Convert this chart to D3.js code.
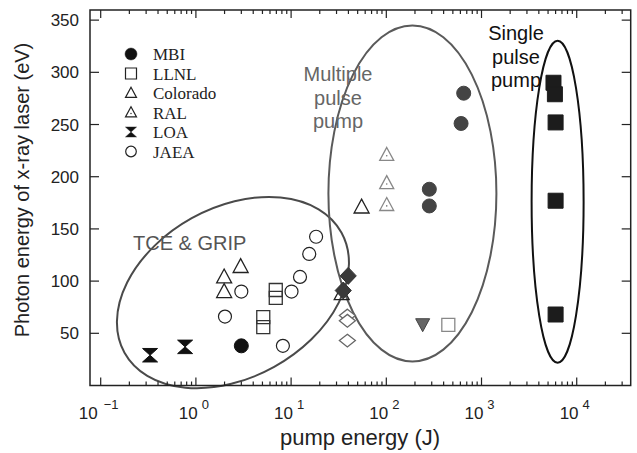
<!DOCTYPE html>
<html>
<head>
<meta charset="utf-8">
<script src="https://cdn.jsdelivr.net/npm/d3@7"></script>
<style>
  body { margin: 0; background: #fff; }
  svg text { font-family: "Liberation Sans", Arial, sans-serif; }
</style>
</head>
<body>
<div id="chart"></div>
<script>
// Data: [pump energy (J), photon energy (eV)]
const mbi = [[3.0, 38]];
const mbiMulti = [[650, 280], [610, 251], [283, 188], [283, 172]];
const llnl = [[6.9, 91.5], [6.9, 84], [5.1, 65.5], [5.1, 56]];
const llnlMulti = [[448, 58]];
const colorado = [[1.98, 104], [2.95, 114], [1.98, 90], [55, 171], [34, 88]];
const ral = [[101, 221], [101, 194], [101, 173]];
const loa = [[0.33, 29], [0.77, 37]];
const jaea = [[3.0, 90], [2.02, 66], [8.2, 38], [10.1, 90], [12.4, 104], [15.5, 126], [18.3, 142.5]];
const diamondFilled = [[39.8, 105], [35.3, 91]];
const diamondOpen = [[39, 67], [39, 62], [39, 43]];
const triangleDown = [[241, 58.6]];
const singlePulse = [[5700, 290], [5900, 279], [6000, 252], [6000, 177], [6000, 68]];

const legendItems = ["MBI", "LLNL", "Colorado", "RAL", "LOA", "JAEA"];
const xTickExps = [-1, 0, 1, 2, 3, 4];
const yTicks = [50, 100, 150, 200, 250, 300, 350];

// Layout
const W = 637, H = 453;
const plot = { left: 90, right: 630.7, top: 10, bottom: 385.5 };

const svg = d3.select("#chart").append("svg")
  .attr("width", W).attr("height", H);

const x = d3.scaleLog().domain([0.0772, 36900]).range([plot.left, plot.right]);
const y = d3.scaleLinear().domain([0, 359.7]).range([plot.bottom, plot.top]);

// Ellipses (annotation regions)
const ellipses = svg.append("g").attr("fill", "none").attr("stroke-width", 2);
ellipses.append("ellipse")
  .attr("transform", `translate(${x(2.45)},${y(89)}) rotate(-29)`)
  .attr("rx", 124).attr("ry", 85).attr("stroke", "#4a4a4a");
ellipses.append("ellipse")
  .attr("cx", x(188)).attr("cy", y(184))
  .attr("rx", 84).attr("ry", 168).attr("stroke", "#5a5a5a");
ellipses.append("ellipse")
  .attr("cx", x(6300)).attr("cy", y(176))
  .attr("rx", 26).attr("ry", 161).attr("stroke", "#111");

// Frame
svg.append("rect")
  .attr("x", plot.left).attr("y", plot.top)
  .attr("width", plot.right - plot.left).attr("height", plot.bottom - plot.top)
  .attr("fill", "none").attr("stroke", "#222").attr("stroke-width", 1.5);

// X ticks (log, inward on bottom and top)
const minor = [];
for (let e = -1; e <= 4; e++) {
  for (let m = 1; m <= 9; m++) {
    const v = m * Math.pow(10, e);
    if (v >= x.domain()[0] && v <= x.domain()[1]) minor.push({ v, major: m === 1 });
  }
}
const ticks = svg.append("g").attr("stroke", "#222").attr("stroke-width", 1.2);
minor.forEach(t => {
  const len = t.major ? 8 : 4;
  ticks.append("line").attr("x1", x(t.v)).attr("x2", x(t.v))
    .attr("y1", plot.bottom).attr("y2", plot.bottom - len);
  ticks.append("line").attr("x1", x(t.v)).attr("x2", x(t.v))
    .attr("y1", plot.top).attr("y2", plot.top + len);
});
yTicks.forEach(v => {
  ticks.append("line").attr("x1", plot.left).attr("x2", plot.left + 9)
    .attr("y1", y(v)).attr("y2", y(v));
  ticks.append("line").attr("x1", plot.right).attr("x2", plot.right - 9)
    .attr("y1", y(v)).attr("y2", y(v));
});

// Tick labels
svg.append("g").selectAll("text").data(yTicks).join("text")
  .attr("x", 79).attr("y", d => y(d) + 6)
  .attr("text-anchor", "end").attr("font-size", 17).attr("fill", "#222")
  .text(d => d);

const xl = svg.append("g").selectAll("text").data(xTickExps).join("text")
  .attr("x", d => x(Math.pow(10, d)) - 2).attr("y", 419)
  .attr("text-anchor", "middle").attr("font-size", 17).attr("fill", "#222");
xl.append("tspan").text("10");
xl.append("tspan").attr("dx", d => d < 0 ? 6 : 4).attr("dy", -10).attr("font-size", 13)
  .text(d => d < 0 ? "\u2212" + Math.abs(d) : d);

// Axis titles
svg.append("text").attr("x", 360).attr("y", 445)
  .attr("text-anchor", "middle").attr("font-size", 22).attr("fill", "#222")
  .text("pump energy (J)");
svg.append("text")
  .attr("transform", `translate(29,190) rotate(-90)`)
  .attr("text-anchor", "middle").attr("font-size", 20).attr("fill", "#222")
  .text("Photon energy of x-ray laser (eV)");

// Marker shapes
function shape(type, s) {
  const h = s / 2;
  switch (type) {
    case "square": return `M${-h},${-h}H${h}V${h}H${-h}Z`;
    case "triangle": return `M0,${-h * 1.05}L${h},${h * 0.8}L${-h},${h * 0.8}Z`;
    case "triangleDown": return `M${-h},${-h * 0.8}L${h},${-h * 0.8}L0,${h * 1.05}Z`;
    case "hourglass": return `M${-h},${-h * 0.9}H${h}L0,0Z M${-h},${h * 0.9}H${h}L0,0Z`;
    case "diamond": return `M0,${-h}L${h * 0.95},0L0,${h}L${-h * 0.95},0Z`;
    case "diamondFlat": return `M0,${-h * 0.8}L${h},0L0,${h * 0.8}L${-h},0Z`;
  }
}

function drawSeries(data, type, size, fill, stroke, sw) {
  const g = svg.append("g");
  g.selectAll("path").data(data).join("path")
    .attr("transform", d => `translate(${x(d[0])},${y(d[1])})`)
    .attr("d", type === "circle" ? d3.arc()({ innerRadius: 0, outerRadius: size / 2, startAngle: 0, endAngle: 2 * Math.PI }) : shape(type, size))
    .attr("fill", fill).attr("stroke", stroke).attr("stroke-width", sw);
  return g;
}

drawSeries(loa, "hourglass", 15, "#111", "#111", 1);
drawSeries(jaea, "circle", 13, "#fff", "#222", 1.2);
drawSeries(llnl, "square", 13, "none", "#333", 1.3);
drawSeries(colorado, "triangle", 15, "none", "#222", 1.3);
drawSeries(diamondOpen, "diamondFlat", 16, "#fff", "#666", 1.3);
drawSeries(diamondFilled, "diamond", 17, "#3a3a3a", "#333", 1);
drawSeries(ral, "triangle", 14, "#fff", "#888", 1.3);
svg.append("g").selectAll("circle").data(ral).join("circle")
  .attr("cx", d => x(d[0])).attr("cy", d => y(d[1]) + 1).attr("r", 0.8).attr("fill", "#777");
drawSeries(mbi, "circle", 14, "#111", "#111", 1);
drawSeries(mbiMulti, "circle", 14, "#444", "#444", 1);
drawSeries(triangleDown, "triangleDown", 14, "#666", "#444", 1);
drawSeries(llnlMulti, "square", 13, "#fff", "#888", 1.3);
drawSeries(singlePulse, "square", 15, "#1c1c1c", "#1c1c1c", 1);

// Annotations
svg.append("text").attr("x", 133).attr("y", 250).attr("font-size", 20).attr("fill", "#555")
  .text("TCE & GRIP");
svg.append("g").selectAll("text").data(["Multiple", "pulse", "pump"]).join("text")
  .attr("x", 338).attr("y", (d, i) => 81 + i * 23.5)
  .attr("text-anchor", "middle").attr("font-size", 20).attr("fill", "#666")
  .text(d => d);
svg.append("g").selectAll("text").data(["Single", "pulse", "pump"]).join("text")
  .attr("x", 516).attr("y", (d, i) => 40 + i * 23.5)
  .attr("text-anchor", "middle").attr("font-size", 20).attr("fill", "#111")
  .text(d => d);

// Legend
const legendTypes = ["circle", "square", "triangle", "triangle", "hourglass", "circle"];
const legend = svg.append("g").attr("transform", "translate(131,54)");
legendItems.forEach((name, i) => {
  const row = legend.append("g").attr("transform", `translate(0,${i * 19.5})`);
  const t = legendTypes[i];
  const filled = name === "MBI" || name === "LOA";
  row.append("path")
    .attr("d", t === "circle" ? d3.arc()({ innerRadius: 0, outerRadius: filled ? 6 : 5.3, startAngle: 0, endAngle: 2 * Math.PI }) : shape(t, 11))
    .attr("fill", filled ? "#111" : "none")
    .attr("stroke", "#222").attr("stroke-width", filled ? 0.5 : 1.2);
  if (name === "RAL") row.append("circle").attr("cy", 1).attr("r", 0.8).attr("fill", "#444");
  row.append("text").attr("x", 22).attr("y", 6)
    .style("font-family", "'Liberation Serif', 'Times New Roman', serif")
    .attr("font-size", 17).attr("fill", "#222").text(name);
});
</script>
</body>
</html>
